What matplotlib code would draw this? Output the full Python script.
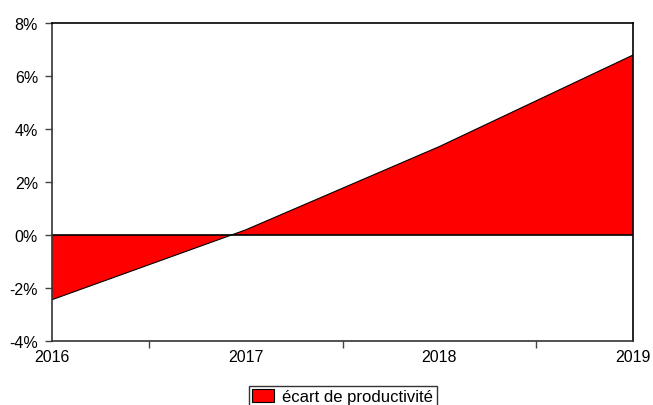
import matplotlib
matplotlib.use('Agg')
from matplotlib import pyplot as plt
from matplotlib.ticker import FuncFormatter, FixedLocator

years = [2016, 2017, 2018, 2019]
ecart = [-2.45, 0.19, 3.34, 6.8]  # écart de productivité, en %
yticks = [-4, -2, 0, 2, 4, 6, 8]

plt.rcParams['font.family'] = ['Liberation Sans', 'DejaVu Sans']

fig = plt.figure(figsize=(6.53, 4.06), dpi=100)
ax = fig.add_axes([52 / 653, 1 - 341.7 / 406, 581 / 653, 317.4 / 406])

ax.fill_between(years, ecart, 0, facecolor='#ff0000', edgecolor='none',
                label='écart de productivité')
ax.plot(years, ecart, color='black', lw=0.8)
ax.axhline(0, color='black', lw=1.2)

ax.set_xlim(years[0], years[-1])
ax.set_ylim(-4, 8)
ax.set_yticks(yticks)
ax.yaxis.set_major_formatter(FuncFormatter(lambda v, p: f'{v:.0f}%'))

# year labels without ticks, small ticks between years
ax.set_xticks(years)
ax.set_xticklabels([str(y) for y in years])
ax.xaxis.set_minor_locator(FixedLocator([y + 0.5 for y in years[:-1]]))
ax.tick_params(axis='x', which='major', length=0, pad=6, labelsize=11.5)
ax.tick_params(axis='x', which='minor', length=5, width=1, color='#444444')
ax.tick_params(axis='y', length=5, width=1, color='#444444', pad=5, labelsize=11.5)

for s in ax.spines.values():
    s.set_linewidth(1.2)
    s.set_color('black')
ax.spines['left'].set_color('#333333')
ax.spines['bottom'].set_color('#333333')

leg = fig.legend(loc='upper center', bbox_to_anchor=(0.525, 1 - 387 / 406),
                 fontsize=12, frameon=True, fancybox=False, borderpad=0.2,
                 handlelength=1.3, handleheight=0.8, handletextpad=0.5,
                 borderaxespad=0)
leg.get_frame().set_edgecolor('black')
leg.get_frame().set_linewidth(1.0)
leg.legend_handles[0].set_edgecolor('black')
leg.legend_handles[0].set_linewidth(0.8)

fig.savefig('out.png', dpi=100)
